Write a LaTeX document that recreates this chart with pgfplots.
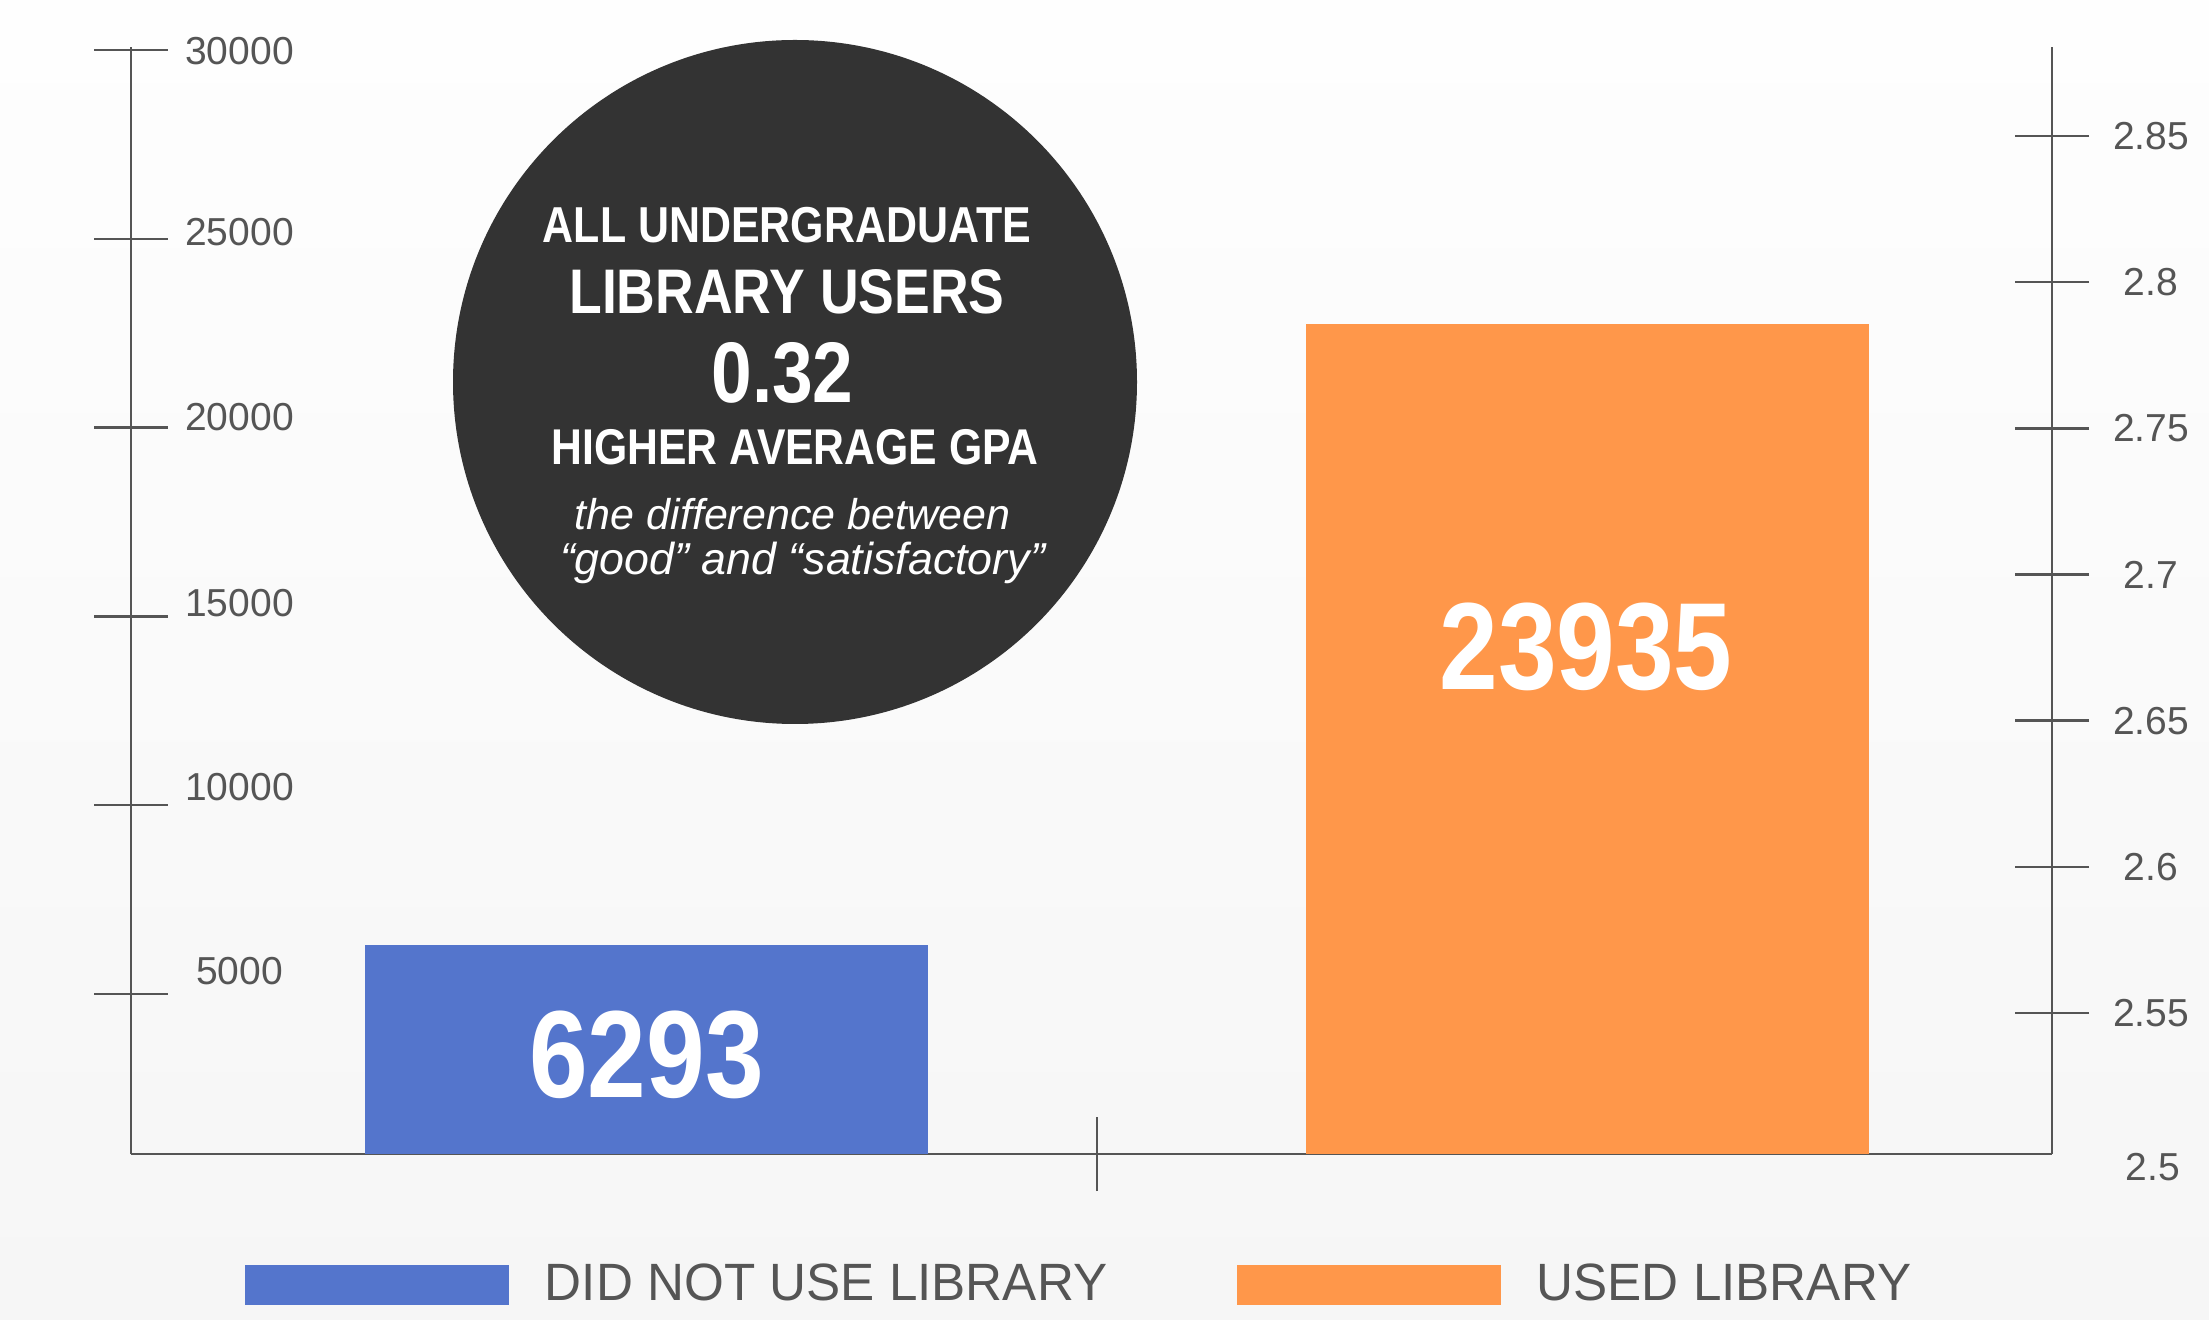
\documentclass[border=0pt]{standalone}
\usepackage{fontspec}
\setmainfont{Liberation Sans}
\newfontfamily\condfont[FakeStretch=0.85]{Liberation Sans}
\newfontfamily\legfont[FakeStretch=0.975]{Liberation Sans}
\usepackage{pgfplots}
\pgfplotsset{compat=1.18}

\definecolor{axisgray}{HTML}{555555}
\definecolor{circlegray}{HTML}{333333}
\definecolor{barblue}{HTML}{5475CC}
\definecolor{barorange}{HTML}{FF974A}
\definecolor{bgtop}{HTML}{FEFEFE}
\definecolor{bgbot}{HTML}{F6F6F6}

% 1 px of the reference = 0.4pt
\newcommand{\lab}[2]{\smash{\raisebox{#1}{#2}}}
\pgfplotsset{
  legimg/.style={legend image code/.code={\fill[##1,draw=none] (0pt,-8.4pt) rectangle (105.6pt,7.6pt);}},
  frame/.style={
    at={(0pt,0pt)}, anchor=south west,
    scale only axis, width=768.4pt, height=442.8pt,
    xmin=-0.5478, xmax=1.4936,
    axis line style={draw=axisgray, line width=1pt, -},
    tick style={draw=axisgray, line width=1pt},
    tick align=center, major tick length=29.6pt,
    scaled y ticks=false,
    ticklabel style={font=\fontsize{15.6}{18}\selectfont, text=axisgray},
  },
}

\begin{document}
\begin{tikzpicture}
\shade[top color=bgtop, bottom color=bgbot] (-52.4pt,-66pt) rectangle (831.2pt,461.6pt);

\begin{axis}[
  frame,
  ymin=763, ymax=30080,
  axis x line*=bottom, axis y line*=left,
  xtick={0.4787}, xticklabels={},
  every x tick/.append style={yshift=14.8pt},
  ytick={5000,10000,15000,20000,25000,30000},
  yticklabels={\lab{4pt}{5000},\lab{1.7pt}{10000},\lab{0pt}{15000},\lab{-1.1pt}{20000},\lab{-2.8pt}{25000},\lab{-5.6pt}{30000}},
  yticklabel style={anchor=center, xshift=58.2pt},
  ybar, bar width=225.2pt, bar shift=0pt,
  legend columns=2,
  legend style={at={(0.05934,-0.13641)}, anchor=south west,
    draw=none, fill=none, inner sep=0pt, outer sep=0pt,
    nodes={inner sep=0pt},
    font=\legfont\fontsize{21}{24}\selectfont, text=axisgray,
    /tikz/every odd column/.append style={column sep=14.4pt},
    /tikz/every even column/.append style={column sep=51.8pt}},
]
\addplot[ybar, fill=barblue, draw=none, legimg] coordinates {(0,6293)};
\addplot[ybar, fill=barorange, draw=none, legimg] coordinates {(1,22750)};
\legend{DID NOT USE LIBRARY, USED LIBRARY}
\node[anchor=base, text=white, font=\condfont\bfseries\fontsize{49.6}{56}\selectfont]
  at (axis cs:0,2251) {6293};
\node[anchor=base, text=white, font=\condfont\bfseries\fontsize{49.6}{56}\selectfont]
  at (axis cs:0.9984,13056) {23935};
\end{axis}

\begin{axis}[
  frame,
  ymin=2.50177, ymax=2.88045,
  axis x line=none, axis y line*=right,
  ytick={2.55,2.6,2.65,2.7,2.75,2.8,2.85},
  yticklabels={2.55,2.6,2.65,2.7,2.75,2.8,2.85},
  extra y ticks={2.5018}, extra y tick labels={2.5},
  extra y tick style={major tick length=0pt, yticklabel style={yshift=-5.2pt, xshift=15.6pt}},
  yticklabel style={anchor=center, xshift=24.8pt},
]
\end{axis}

\fill[circlegray] (265.6pt,308.8pt) circle[radius=136.8pt];
\begin{scope}[every node/.style={anchor=base, text=white, inner sep=0pt}]
\node[font=\condfont\bfseries\fontsize{20.2}{24}\selectfont] at (262.4pt,364.4pt) {ALL UNDERGRADUATE};
\node[font=\condfont\bfseries\fontsize{25.2}{30}\selectfont] at (262.4pt,336.2pt) {LIBRARY USERS};
\node[font=\condfont\bfseries\fontsize{34.4}{40}\selectfont] at (260.6pt,300.4pt) {0.32};
\node[font=\condfont\bfseries\fontsize{20.1}{24}\selectfont] at (265.6pt,275.6pt) {HIGHER AVERAGE GPA};
\node[font=\itshape\fontsize{17.2}{20}\selectfont] at (264.6pt,249.6pt) {the difference between};
\node[font=\itshape\fontsize{17.9}{20}\selectfont] at (268.6pt,231.6pt) {“good” and “satisfactory”};
\end{scope}

\pgfresetboundingbox
\path[use as bounding box] (-52.4pt,-66pt) rectangle (831.2pt,461.6pt);
\end{tikzpicture}
\end{document}
